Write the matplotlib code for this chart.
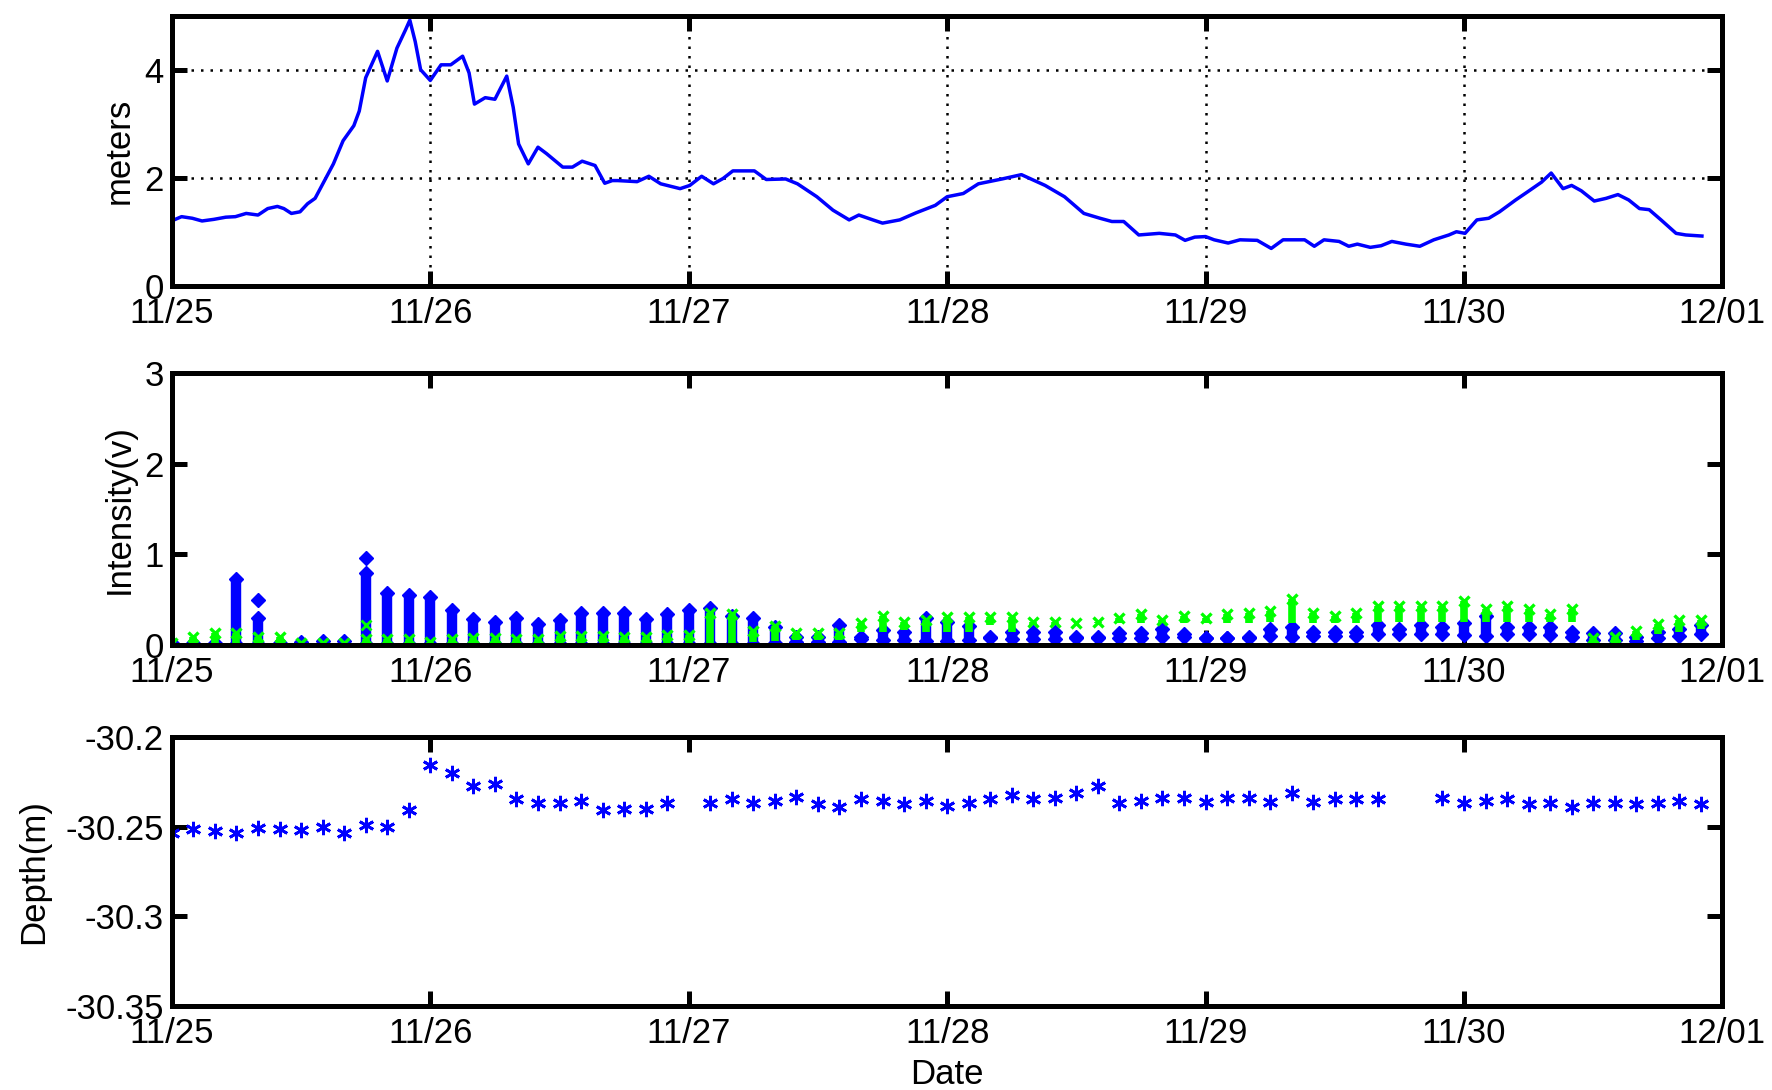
import matplotlib
matplotlib.use("Agg")
import matplotlib.pyplot as plt

plt.rcParams['font.family'] = ['Liberation Sans', 'DejaVu Sans']

# ---- time axis (hours since 11/25 00:00) ----
day_hours = [0, 24, 48, 72, 96, 120, 144]
day_labels = ['11/25', '11/26', '11/27', '11/28', '11/29', '11/30', '12/01']

# ---- significant wave height (m) ----
wave_t = [0.2, 0.9, 1.9, 2.8, 3.9, 5.0, 5.9, 6.9, 8.0, 8.9,
          9.8, 10.4, 11.1, 11.9, 12.6, 13.3, 14.1, 15.0, 15.9, 16.9,
          17.4, 18.0, 19.1, 20.0, 20.9, 21.7, 22.1, 22.6, 23.1, 24.0,
          25.0, 25.9, 27.0, 27.6, 28.1, 29.1, 30.0, 31.1, 31.7, 32.2,
          33.1, 34.0, 34.8, 36.3, 37.2, 38.1, 39.3, 40.2, 40.9, 41.4,
          43.2, 44.3, 45.4, 47.2, 48.1, 49.2, 50.3, 51.2, 52.1, 54.1,
          55.2, 57.0, 58.1, 59.9, 61.4, 62.9, 63.8, 65.1, 66.0, 67.6,
          69.1, 70.9, 72.0, 73.5, 74.9, 77.1, 78.9, 81.1, 82.9, 84.7,
          86.2, 87.3, 88.4, 89.8, 91.7, 93.2, 94.1, 95.0, 96.0, 96.8,
          98.1, 99.2, 100.8, 102.1, 103.2, 105.2, 106.1, 107.0, 108.4, 109.3,
          110.1, 111.3, 112.3, 113.3, 114.6, 115.9, 117.2, 118.6, 119.3, 120.1,
          121.2, 122.3, 123.3, 124.8, 125.9, 127.2, 128.1, 129.2, 130.0, 130.9,
          132.1, 133.2, 134.3, 135.3, 136.3, 137.2, 138.3, 139.7, 140.6, 142.1]
wave_h = [1.22, 1.28, 1.25, 1.20, 1.23, 1.27, 1.28, 1.34, 1.31, 1.43,
          1.47, 1.43, 1.34, 1.37, 1.52, 1.62, 1.92, 2.26, 2.69, 2.97,
          3.24, 3.86, 4.35, 3.80, 4.41, 4.75, 4.93, 4.53, 4.01, 3.81,
          4.10, 4.10, 4.26, 3.95, 3.37, 3.49, 3.46, 3.89, 3.31, 2.63,
          2.26, 2.57, 2.45, 2.20, 2.20, 2.31, 2.23, 1.90, 1.95, 1.95,
          1.93, 2.03, 1.89, 1.80, 1.86, 2.03, 1.89, 1.99, 2.13, 2.13,
          1.97, 1.98, 1.89, 1.65, 1.40, 1.22, 1.31, 1.22, 1.16, 1.22,
          1.35, 1.49, 1.65, 1.71, 1.89, 1.98, 2.06, 1.86, 1.65, 1.34,
          1.25, 1.19, 1.19, 0.94, 0.97, 0.94, 0.84, 0.90, 0.91, 0.85,
          0.79, 0.85, 0.84, 0.69, 0.85, 0.85, 0.73, 0.85, 0.82, 0.73,
          0.77, 0.71, 0.74, 0.82, 0.77, 0.73, 0.85, 0.94, 1.00, 0.97,
          1.22, 1.25, 1.37, 1.59, 1.74, 1.92, 2.09, 1.80, 1.86, 1.76,
          1.57, 1.62, 1.69, 1.59, 1.43, 1.41, 1.22, 0.97, 0.94, 0.92]

# ---- backscatter intensity per burst (V): range of values in each burst ----
burst_t = [0, 2, 4, 6, 8, 10, 12, 14, 16, 18,
           20, 22, 24, 26, 28, 30, 32, 34, 36, 38,
           40, 42, 44, 46, 48, 50, 52, 54, 56, 58,
           60, 62, 64, 66, 68, 70, 72, 74, 76, 78,
           80, 82, 84, 86, 88, 90, 92, 94, 96, 98,
           100, 102, 104, 106, 108, 110, 112, 114, 116, 118,
           120, 122, 124, 126, 128, 130, 132, 134, 136, 138,
           140, 142]
blue_hi = [0.02, 0.02, 0.02, 0.73, 0.30, 0.02, 0.04, 0.05, 0.05, 0.80,
           0.58, 0.55, 0.53, 0.39, 0.29, 0.26, 0.30, 0.23, 0.28, 0.36,
           0.36, 0.36, 0.29, 0.34, 0.39, 0.41, 0.32, 0.30, 0.20, 0.09,
           0.09, 0.22, 0.09, 0.17, 0.15, 0.30, 0.26, 0.21, 0.09, 0.15,
           0.15, 0.15, 0.09, 0.09, 0.13, 0.13, 0.18, 0.12, 0.08, 0.08,
           0.09, 0.18, 0.20, 0.15, 0.15, 0.15, 0.22, 0.18, 0.22, 0.20,
           0.24, 0.32, 0.20, 0.20, 0.20, 0.15, 0.13, 0.13, 0.09, 0.15,
           0.18, 0.22]
blue_lo = [0.01, 0.01, 0.01, 0.01, 0.01, 0.01, 0.01, 0.01, 0.01, 0.01,
           0.01, 0.01, 0.01, 0.01, 0.01, 0.01, 0.01, 0.01, 0.01, 0.01,
           0.01, 0.01, 0.01, 0.01, 0.01, 0.01, 0.01, 0.01, 0.03, 0.04,
           0.04, 0.04, 0.07, 0.06, 0.06, 0.05, 0.05, 0.06, 0.08, 0.07,
           0.07, 0.07, 0.08, 0.08, 0.08, 0.08, 0.09, 0.09, 0.08, 0.08,
           0.08, 0.10, 0.09, 0.10, 0.10, 0.10, 0.12, 0.12, 0.12, 0.12,
           0.11, 0.10, 0.12, 0.12, 0.11, 0.09, 0.06, 0.06, 0.05, 0.08,
           0.10, 0.12]
green_hi = [0.02, 0.09, 0.14, 0.14, 0.09, 0.09, 0.02, 0.03, 0.03, 0.07,
            0.07, 0.07, 0.04, 0.07, 0.08, 0.08, 0.07, 0.07, 0.10, 0.10,
            0.10, 0.09, 0.09, 0.11, 0.11, 0.36, 0.34, 0.16, 0.21, 0.14,
            0.14, 0.14, 0.24, 0.32, 0.26, 0.28, 0.31, 0.31, 0.31, 0.31,
            0.26, 0.26, 0.24, 0.26, 0.30, 0.34, 0.28, 0.32, 0.30, 0.34,
            0.36, 0.38, 0.51, 0.36, 0.32, 0.36, 0.43, 0.43, 0.43, 0.43,
            0.49, 0.40, 0.43, 0.40, 0.34, 0.40, 0.08, 0.09, 0.16, 0.23,
            0.28, 0.28]
green_lo = [0.01, 0.01, 0.01, 0.01, 0.01, 0.01, 0.01, 0.01, 0.01, 0.01,
            0.01, 0.01, 0.01, 0.01, 0.01, 0.01, 0.01, 0.01, 0.01, 0.01,
            0.01, 0.01, 0.01, 0.01, 0.01, 0.02, 0.02, 0.04, 0.05, 0.06,
            0.06, 0.06, 0.15, 0.15, 0.17, 0.15, 0.15, 0.15, 0.22, 0.15,
            0.22, 0.22, 0.24, 0.24, 0.24, 0.24, 0.24, 0.24, 0.24, 0.24,
            0.24, 0.26, 0.24, 0.24, 0.24, 0.24, 0.26, 0.26, 0.26, 0.26,
            0.26, 0.26, 0.26, 0.26, 0.26, 0.26, 0.03, 0.03, 0.06, 0.12,
            0.15, 0.18]
# isolated samples above the bursts
blue_extra_t = [8, 18]
blue_extra_v = [0.50, 0.96]
green_extra_t = [18]
green_extra_v = [0.22]

# ---- instrument depth (m) ----
depth_t = [0, 2, 4, 6, 8, 10, 12, 14, 16, 18,
           20, 22, 24, 26, 28, 30, 32, 34, 36, 38,
           40, 42, 44, 46, 50, 52, 54, 56, 58, 60,
           62, 64, 66, 68, 70, 72, 74, 76, 78, 80,
           82, 84, 86, 88, 90, 92, 94, 96, 98, 100,
           102, 104, 106, 108, 110, 112, 118, 120, 122, 124,
           126, 128, 130, 132, 134, 136, 138, 140, 142]
depth_v = [-30.2533, -30.2515, -30.2524, -30.2533, -30.2506, -30.2515, -30.2520, -30.2502, -30.2533, -30.2493,
           -30.2502, -30.2409, -30.2159, -30.2200, -30.2274, -30.2265, -30.2348, -30.2367, -30.2367, -30.2357,
           -30.2407, -30.2400, -30.2400, -30.2367, -30.2367, -30.2348, -30.2367, -30.2357, -30.2335, -30.2376,
           -30.2389, -30.2348, -30.2357, -30.2376, -30.2357, -30.2385, -30.2367, -30.2344, -30.2326, -30.2348,
           -30.2339, -30.2315, -30.2274, -30.2367, -30.2357, -30.2339, -30.2339, -30.2361, -30.2339, -30.2339,
           -30.2361, -30.2315, -30.2361, -30.2348, -30.2348, -30.2348, -30.2339, -30.2370, -30.2357, -30.2348,
           -30.2376, -30.2370, -30.2389, -30.2367, -30.2367, -30.2376, -30.2367, -30.2357, -30.2376]
depth_ticks = [-30.35, -30.3, -30.25, -30.2]

FS = 25
SPINE_W = 3.6


def style(ax, ylim, yticks, yticklabels=None):
    ax.set_xlim(day_hours[0], day_hours[-1])
    ax.set_ylim(*ylim)
    ax.set_xticks(day_hours)
    ax.set_xticklabels(day_labels)
    ax.set_yticks(yticks)
    if yticklabels is not None:
        ax.set_yticklabels(yticklabels)
    for s in ax.spines.values():
        s.set_linewidth(SPINE_W)
    ax.tick_params(direction='in', length=11, width=SPINE_W, top=True,
                   right=True, labelsize=FS, colors='k')
    ax.tick_params(axis='x', pad=8)
    ax.tick_params(axis='y', pad=6)


fig = plt.figure(figsize=(17.72, 10.90), dpi=100)
ax1 = fig.add_axes([0.097, 0.738, 0.875, 0.247])
ax2 = fig.add_axes([0.097, 0.408, 0.875, 0.250])
ax3 = fig.add_axes([0.097, 0.077, 0.875, 0.247])

# wave height
ax1.plot(wave_t, wave_h, color='blue', lw=2.5)
style(ax1, (0, 5), [0, 2, 4])
ax1.grid(True, color='k', lw=1.8, linestyle=(0, (1, 2.8)))
ax1.set_ylabel('meters', fontsize=FS, va='center')
ax1.yaxis.set_label_coords(-0.034, 0.5)

# intensity bursts
ax2.vlines(burst_t, blue_lo, blue_hi, color='blue', lw=7.5)
ax2.plot(burst_t, blue_hi, 'D', color='blue', ms=7.5, mec='blue')
ax2.plot(burst_t, blue_lo, 'D', color='blue', ms=7.5, mec='blue')
ax2.plot(blue_extra_t, blue_extra_v, 'D', color='blue', ms=7.5)
ax2.vlines(burst_t, green_lo, green_hi, color='#00ff00', lw=5.5)
ax2.plot(burst_t, green_hi, 'x', color='#00ff00', ms=7, mew=2.4)
ax2.plot(green_extra_t, green_extra_v, 'x', color='#00ff00', ms=7, mew=2)
style(ax2, (0, 3), [0, 1, 2, 3])
ax2.set_ylabel('Intensity(v)', fontsize=FS, va='center')
ax2.yaxis.set_label_coords(-0.034, 0.5)

# depth
ax3.plot(depth_t, depth_v, linestyle='none', marker=(6, 2, 0), ms=11,
         mew=2, color='blue')
style(ax3, (-30.35, -30.2), depth_ticks, ['%g' % v for v in depth_ticks])
ax3.set_ylabel('Depth(m)', fontsize=FS, va='center')
ax3.yaxis.set_label_coords(-0.089, 0.5)
ax3.set_xlabel('Date', fontsize=FS, va='center')
ax3.xaxis.set_label_coords(0.5, -0.253)

fig.savefig('out.png', dpi=100, facecolor='white')
